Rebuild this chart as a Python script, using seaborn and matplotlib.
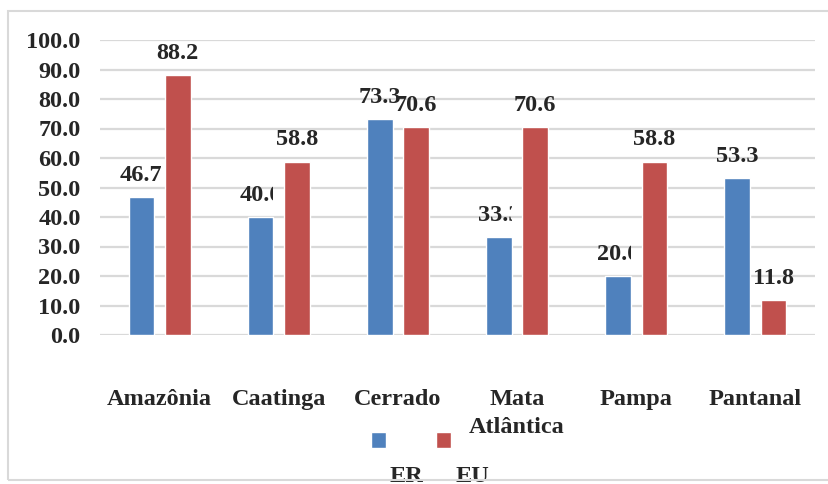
import matplotlib
matplotlib.use("Agg")
import matplotlib.pyplot as plt
import seaborn as sns
import pandas as pd
from matplotlib.patches import Rectangle

categories = ["Amazônia", "Caatinga", "Cerrado", "Mata\nAtlântica", "Pampa", "Pantanal"]
er_values = [46.7, 40.0, 73.3, 33.3, 20.0, 53.3]
eu_values = [88.2, 58.8, 70.6, 70.6, 58.8, 11.8]
series_names = ["ER", "EU"]
y_ticks = [0, 10, 20, 30, 40, 50, 60, 70, 80, 90, 100]

BLUE = "#4f81bd"
RED = "#c0504d"
GRID = "#d9d9d9"

sns.set_theme(style="white")
plt.rcParams["font.family"] = ["Liberation Serif", "DejaVu Serif"]
plt.rcParams["font.weight"] = "bold"
FS = 17.5

df = pd.DataFrame({
    "bioma": categories * 2,
    "valor": er_values + eu_values,
    "serie": [series_names[0]] * len(categories) + [series_names[1]] * len(categories),
})

fig = plt.figure(figsize=(8.29, 4.84), dpi=100)
ax = fig.add_axes([100 / 829, 1 - 335 / 484, 715 / 829, 295 / 484])

sns.barplot(data=df, x="bioma", y="valor", hue="serie", order=categories,
            hue_order=series_names, palette=[BLUE, RED], width=0.61, gap=0.29,
            saturation=1, ax=ax, legend=True)

handles, labels = ax.get_legend_handles_labels()
ax.get_legend().remove()

ax.set_xlim(-0.5, len(categories) - 0.5)
ax.set_ylim(0, 100)
ax.set_yticks(y_ticks)
ax.set_yticklabels([f"{v:.1f}" for v in y_ticks], fontsize=FS, fontweight="bold")
ax.set_xticks(range(len(categories)))
ax.set_xticklabels(categories, fontsize=FS, fontweight="bold", linespacing=1.45)
ax.set_xlabel("")
ax.set_ylabel("")
ax.yaxis.grid(True, color=GRID, linewidth=1.6)
ax.set_axisbelow(True)
for s in ax.spines.values():
    s.set_visible(False)
ax.tick_params(axis="y", length=0, pad=14)
ax.tick_params(axis="x", length=0, pad=39)

clipped = [False, True, False, True, True, False]
for ci, cont in enumerate(ax.containers):
    anns = ax.bar_label(cont, fmt="%.1f", padding=8, fontsize=FS, fontweight="bold")
    if ci == 0:
        for i, (bar, ann) in enumerate(zip(cont.patches, anns)):
            if clipped[i]:
                x1 = bar.get_x() + bar.get_width()
                rect = Rectangle((x1 - 1.0, -20), 1.0, 300, transform=ax.transData)
                ann.set_clip_path(rect)

leg = fig.legend(handles, ["", ""], loc="center",
                 bbox_to_anchor=(411 / 829, 1 - 443 / 484), ncol=2, frameon=False,
                 handlelength=0.62, handleheight=0.62, handletextpad=0,
                 columnspacing=2.05, borderpad=0, fontsize=FS)

fig.text(406 / 829, 1 - 466 / 484, series_names[0], ha="center", va="top",
         fontsize=FS, fontweight="bold")
fig.text(472 / 829, 1 - 466 / 484, series_names[1], ha="center", va="top",
         fontsize=FS, fontweight="bold")

border = Rectangle((8 / 829, 1 - 480 / 484), 900 / 829, 469 / 484,
                   transform=fig.transFigure, fill=False, edgecolor=GRID,
                   linewidth=1.5, zorder=10)
fig.add_artist(border)

fig.savefig("out.png", dpi=100, facecolor="white")
